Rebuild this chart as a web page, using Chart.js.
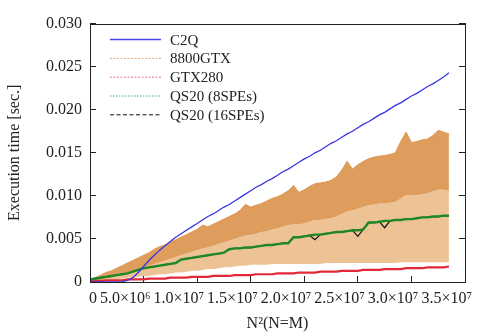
<!DOCTYPE html>
<html>
<head>
<meta charset="utf-8">
<script src="https://cdn.jsdelivr.net/npm/chart.js@4.4.1/dist/chart.umd.min.js"></script>
<style>
  html, body { margin: 0; padding: 0; background: #fff; }
  canvas { display: block; }
</style>
</head>
<body>
<canvas id="chart" width="490" height="335"></canvas>
<script>
// N^2 sample positions (step 5e5)
const nSquared = [
  0, 5e5, 1e6, 1.5e6, 2e6, 2.5e6, 3e6, 3.5e6, 4e6, 4.5e6,
  5e6, 5.5e6, 6e6, 6.5e6, 7e6, 7.5e6, 8e6, 8.5e6, 9e6, 9.5e6,
  1e7, 1.05e7, 1.1e7, 1.15e7, 1.2e7, 1.25e7, 1.3e7, 1.35e7, 1.4e7, 1.45e7,
  1.5e7, 1.55e7, 1.6e7, 1.65e7, 1.7e7, 1.75e7, 1.8e7, 1.85e7, 1.9e7, 1.95e7,
  2e7, 2.05e7, 2.1e7, 2.15e7, 2.2e7, 2.25e7, 2.3e7, 2.35e7, 2.4e7, 2.45e7,
  2.5e7, 2.55e7, 2.6e7, 2.65e7, 2.7e7, 2.75e7, 2.8e7, 2.85e7, 2.9e7, 2.95e7,
  3e7, 3.05e7, 3.1e7, 3.15e7, 3.2e7, 3.25e7, 3.3e7, 3.35e7
];

const c2q = [
  0, 0, 0, 0, 0, 0.00002, 0.00005, 0.0002, 0.0005, 0.0011,
  0.0018, 0.0025, 0.0031, 0.0037, 0.0042, 0.0047, 0.0052, 0.0056, 0.0060, 0.0064,
  0.0068, 0.0072, 0.0076, 0.0079, 0.0083, 0.0087, 0.0090, 0.0094, 0.0098, 0.0102,
  0.0106, 0.0110, 0.0113, 0.0117, 0.0120, 0.0124, 0.0128, 0.0131, 0.0135, 0.0139,
  0.0143, 0.0146, 0.0150, 0.0153, 0.0157, 0.0161, 0.0164, 0.0168, 0.0172, 0.0175,
  0.0179, 0.0183, 0.0186, 0.0190, 0.0194, 0.0197, 0.0201, 0.0205, 0.0208, 0.0212,
  0.0216, 0.0219, 0.0223, 0.0227, 0.0230, 0.0234, 0.0238, 0.0243
];

// 8800GTX oscillates between a top envelope and a bottom envelope
const gtx8800Top = [
  0.0002, 0.0005, 0.0008, 0.0011, 0.0013, 0.0016, 0.0019, 0.0022, 0.0025, 0.0028,
  0.0031, 0.0034, 0.0038, 0.0041, 0.0043, 0.0046, 0.0049, 0.0052, 0.0055, 0.0058,
  0.0061, 0.0066, 0.0064, 0.0067, 0.0070, 0.0073, 0.0076, 0.0079, 0.0083, 0.0090,
  0.0087, 0.0089, 0.0091, 0.0094, 0.0097, 0.0099, 0.0102, 0.0106, 0.0112, 0.0104,
  0.0107, 0.0111, 0.0114, 0.0115, 0.0116, 0.0118, 0.0122, 0.0130, 0.0140, 0.0131,
  0.0136, 0.0140, 0.0143, 0.0145, 0.0146, 0.0147, 0.0148, 0.0150, 0.0163, 0.0174,
  0.0162, 0.0163, 0.0165, 0.0166, 0.0170, 0.0176, 0.0174, 0.0172
];
const gtx8800Dense = [
  0.0000, 0.0001, 0.0002, 0.0004, 0.0005, 0.0007, 0.0009, 0.0011, 0.0013, 0.0015,
  0.0017, 0.0019, 0.0021, 0.0023, 0.0025, 0.0027, 0.0029, 0.0031, 0.0033, 0.0035,
  0.0037, 0.0039, 0.0040, 0.0042, 0.0044, 0.0046, 0.0048, 0.0050, 0.0052, 0.0054,
  0.0055, 0.0056, 0.0058, 0.0059, 0.0061, 0.0062, 0.0064, 0.0066, 0.0067, 0.0067,
  0.0068, 0.0070, 0.0072, 0.0072, 0.0073, 0.0074, 0.0076, 0.0079, 0.0082, 0.0083,
  0.0085, 0.0087, 0.0089, 0.0090, 0.0091, 0.0091, 0.0092, 0.0093, 0.0097, 0.0101,
  0.0100, 0.0101, 0.0102, 0.0103, 0.0105, 0.0107, 0.0107, 0.0106
];
const gtx8800Bottom = [
  0.0000, 0.0001, 0.0001, 0.0002, 0.0003, 0.0003, 0.0004, 0.0005, 0.0005, 0.0006,
  0.0007, 0.0007, 0.0008, 0.0009, 0.0009, 0.0010, 0.0011, 0.0011, 0.0012, 0.0013,
  0.0013, 0.0014, 0.0015, 0.0015, 0.0016, 0.0017, 0.0017, 0.0018, 0.0019, 0.0019,
  0.0020, 0.0020, 0.0020, 0.0020, 0.0021, 0.0021, 0.0021, 0.0021, 0.0021, 0.0021,
  0.0021, 0.0021, 0.0021, 0.0021, 0.0022, 0.0022, 0.0022, 0.0022, 0.0022, 0.0022,
  0.0022, 0.0022, 0.0022, 0.0022, 0.0022, 0.0022, 0.0022, 0.0022, 0.0023, 0.0023,
  0.0023, 0.0023, 0.0023, 0.0023, 0.0023, 0.0023, 0.0023, 0.0023
];

const gtx280 = [
  0.0001, 0.0001, 0.0001, 0.0002, 0.0002, 0.0002, 0.0002, 0.0003, 0.0003, 0.0003,
  0.0003, 0.0004, 0.0004, 0.0004, 0.0004, 0.0005, 0.0005, 0.0005, 0.0005, 0.0006,
  0.0006, 0.0006, 0.0006, 0.0007, 0.0007, 0.0007, 0.0007, 0.0008, 0.0008, 0.0008,
  0.0008, 0.0009, 0.0009, 0.0009, 0.0009, 0.0010, 0.0010, 0.0010, 0.0010, 0.0011,
  0.0011, 0.0011, 0.0011, 0.0012, 0.0012, 0.0012, 0.0012, 0.0013, 0.0013, 0.0013,
  0.0013, 0.0014, 0.0014, 0.0014, 0.0014, 0.0015, 0.0015, 0.0015, 0.0015, 0.0016,
  0.0016, 0.0016, 0.0016, 0.0017, 0.0017, 0.0017, 0.0017, 0.0018
];

const qs20x8 = [
  0.0003, 0.0004, 0.0005, 0.0006, 0.0007, 0.0008, 0.0009, 0.0010, 0.0012, 0.0014,
  0.0016, 0.0017, 0.0018, 0.0019, 0.0020, 0.0021, 0.0022, 0.0026, 0.0027, 0.0028,
  0.0029, 0.0030, 0.0031, 0.0032, 0.0033, 0.0034, 0.0038, 0.0039, 0.0039, 0.0040,
  0.0040, 0.0041, 0.0042, 0.0043, 0.0043, 0.0044, 0.0045, 0.0045, 0.0052, 0.0052,
  0.0053, 0.0054, 0.0055, 0.0055, 0.0056, 0.0057, 0.0058, 0.0058, 0.0059, 0.0060,
  0.0060, 0.0061, 0.0069, 0.0069, 0.0070, 0.0071, 0.0071, 0.0072, 0.0072, 0.0073,
  0.0073, 0.0074, 0.0075, 0.0075, 0.0076, 0.0076, 0.0077, 0.0077
];

// 16 SPEs sits under the 8 SPE curve, only a few small dips show
const qs20x16 = [
  0.0003, 0.0004, 0.0005, 0.0006, 0.0007, 0.0008, 0.0009, 0.0010, 0.0012, 0.0014,
  0.0016, 0.0017, 0.0018, 0.0019, 0.0020, 0.0021, 0.0022, 0.0026, 0.0027, 0.0028,
  0.0029, 0.0030, 0.0031, 0.0032, 0.0033, 0.0034, 0.0038, 0.0039, 0.0039, 0.0040,
  0.0040, 0.0041, 0.0042, 0.0043, 0.0043, 0.0044, 0.0045, 0.0045, 0.0052, 0.0052,
  0.0053, 0.0054, 0.0049, 0.0055, 0.0056, 0.0057, 0.0058, 0.0058, 0.0059, 0.0060,
  0.0053, 0.0061, 0.0069, 0.0069, 0.0070, 0.0063, 0.0071, 0.0072, 0.0072, 0.0073,
  0.0073, 0.0074, 0.0075, 0.0075, 0.0076, 0.0076, 0.0077, 0.0077
];

const xTickValues = [0, 5e6, 1e7, 1.5e7, 2e7, 2.5e7, 3e7, 3.5e7];
const yTickValues = [0, 0.005, 0.010, 0.015, 0.020, 0.025, 0.030];

const SERIF = "'Liberation Serif', 'Times New Roman', serif";
const SUP = { 6: '\u2076', 7: '\u2077' };

function points(ys) {
  return nSquared.map((x, i) => ({ x, y: ys[i] }));
}

function sciLabel(v) {
  if (v === 0) return '0';
  const exp = Math.floor(Math.log10(v) + 1e-9);
  const mant = v / Math.pow(10, exp);
  return mant.toFixed(1) + '\u00d710' + SUP[exp];
}

// legend drawn inside the plot, top-left, like the original
const insideLegend = {
  id: 'insideLegend',
  afterDraw(chart) {
    const { ctx, chartArea } = chart;
    const items = chart.data.datasets.filter(d => d.legendColor);
    ctx.save();
    ctx.font = '15px ' + SERIF;
    ctx.textBaseline = 'middle';
    ctx.fillStyle = '#222';
    items.forEach((d, i) => {
      const y = chartArea.top + 16 + i * 18.8;
      const x0 = chartArea.left + 20;
      ctx.beginPath();
      ctx.setLineDash(d.legendDash || []);
      ctx.strokeStyle = d.legendColor;
      ctx.lineWidth = d.legendWidth || 1;
      ctx.moveTo(x0, y);
      ctx.lineTo(x0 + 51, y);
      ctx.stroke();
      ctx.setLineDash([]);
      ctx.fillText(d.label, x0 + 60, y + 1);
    });
    ctx.restore();
  }
};

const frame = {
  id: 'frame',
  afterDraw(chart) {
    const { ctx, chartArea: a } = chart;
    ctx.save();
    ctx.strokeStyle = '#222';
    ctx.lineWidth = 1;
    ctx.strokeRect(Math.round(a.left) + 0.5, Math.round(a.top) + 0.5,
      Math.round(a.right - a.left), Math.round(a.bottom - a.top));
    ctx.restore();
  }
};

const line = (extra) => Object.assign({
  pointRadius: 0,
  tension: 0,
  fill: false,
  borderWidth: 1
}, extra);

new Chart(document.getElementById('chart'), {
  type: 'line',
  data: {
    datasets: [
      line({ label: 'C2Q', data: points(c2q), borderColor: 'rgb(55,55,225)', borderWidth: 1.3,
        order: 0, legendColor: 'rgb(70,70,225)', legendWidth: 1.5 }),
      line({ label: '8800GTX', data: points(gtx8800Top), borderColor: 'rgb(222,150,80)',
        backgroundColor: 'rgba(221,152,84,0.95)', fill: 2, order: 4,
        legendColor: 'rgb(230,165,120)', legendDash: [2, 1.5] }),
      line({ label: '8800GTX dense', data: points(gtx8800Dense), borderWidth: 0,
        borderColor: 'rgba(0,0,0,0)', backgroundColor: 'rgba(234,184,130,0.85)', fill: 3, order: 5 }),
      line({ label: '8800GTX bottom', data: points(gtx8800Bottom), borderWidth: 0,
        borderColor: 'rgba(0,0,0,0)', order: 6 }),
      line({ label: 'GTX280', data: points(gtx280), borderColor: 'rgb(228,40,55)', borderWidth: 2.2,
        order: 3, legendColor: 'rgb(240,110,135)', legendDash: [2, 1.5] }),
      line({ label: 'QS20 (8SPEs)', data: points(qs20x8), borderColor: 'rgb(30,135,40)', borderWidth: 2.4,
        order: 1, legendColor: 'rgb(70,165,140)', legendDash: [1.5, 1.5] }),
      line({ label: 'QS20 (16SPEs)', data: points(qs20x16), borderColor: 'rgb(20,20,20)', borderWidth: 1.2,
        order: 2, legendColor: '#111', legendDash: [4, 2.5] })
    ]
  },
  options: {
    responsive: false,
    animation: false,
    layout: { padding: { top: 13, right: 0, left: 0, bottom: 0 } },
    plugins: { legend: { display: false }, tooltip: { enabled: false } },
    scales: {
      x: {
        type: 'linear',
        position: 'bottom',
        min: 0,
        max: 3.5e7,
        afterBuildTicks(scale) { scale.ticks = xTickValues.map(value => ({ value })); },
        afterFit(scale) { scale.height = 53; },
        ticks: {
          callback: v => sciLabel(v),
          align: 'end',
          labelOffset: 7,
          padding: 13,
          maxRotation: 0,
          autoSkip: false,
          color: '#222',
          font: { family: SERIF, size: 16 }
        },
        grid: { drawOnChartArea: false, tickLength: -6, color: '#222' },
        border: { color: '#222' },
        title: {
          display: true,
          text: 'N\u00b2(N=M)',
          color: '#222',
          font: { family: SERIF, size: 16 },
          padding: { top: 0, bottom: 2 }
        }
      },
      y: {
        position: 'left',
        min: 0,
        max: 0.03,
        afterBuildTicks(scale) { scale.ticks = yTickValues.map(value => ({ value })); },
        afterFit(scale) { scale.width = 90; },
        ticks: {
          callback: v => (v === 0 ? '0' : v.toFixed(3)),
          padding: 14,
          color: '#222',
          font: { family: SERIF, size: 16 }
        },
        grid: { drawOnChartArea: false, tickLength: -6, color: '#222' },
        border: { color: '#222' },
        title: {
          display: true,
          text: 'Execution time [sec.]',
          color: '#222',
          font: { family: SERIF, size: 16 },
          padding: { top: 5, bottom: 0 }
        }
      },
      y2: {
        position: 'right',
        min: 0,
        max: 0.03,
        afterBuildTicks(scale) { scale.ticks = yTickValues.map(value => ({ value })); },
        afterFit(scale) { scale.width = 25; },
        ticks: { display: false },
        grid: { drawOnChartArea: false, tickLength: -6, color: '#222' },
        border: { color: '#222' }
      }
    }
  },
  plugins: [insideLegend, frame]
});
</script>
</body>
</html>
